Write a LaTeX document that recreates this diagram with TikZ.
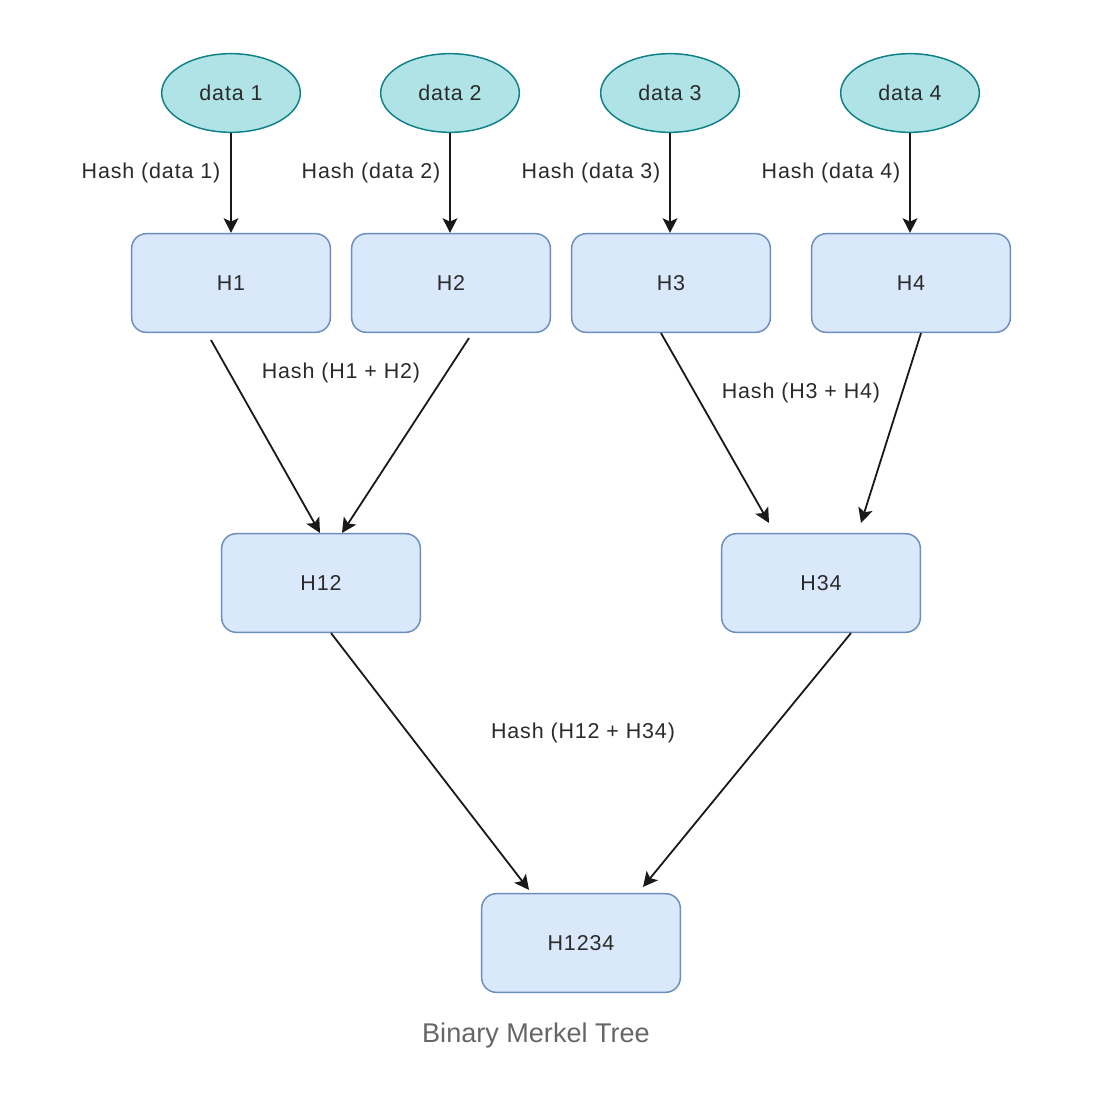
\documentclass[tikz,border=0pt]{standalone}
\usepackage{fontspec}
\setmainfont{Liberation Sans}[LetterSpace=4]
\newfontfamily\captionfont{Liberation Sans}
\usetikzlibrary{shapes.geometric,arrows.meta,calc}
\definecolor{ellfill}{HTML}{B0E3E6}
\definecolor{elldraw}{HTML}{0E8088}
\definecolor{boxfill}{HTML}{DAE8FC}
\definecolor{boxdraw}{HTML}{6C8EBF}
\definecolor{txt}{HTML}{2B2B2B}
\definecolor{capt}{HTML}{666666}
\begin{document}
\begin{tikzpicture}[x=0.75pt,y=-0.75pt,
  dataell/.style={ellipse,draw=elldraw,fill=ellfill,line width=1.1pt,
    minimum width=104pt,minimum height=59pt,inner sep=0pt,text=txt,
    font=\fontsize{16.1}{19}\selectfont},
  hbox/.style={rectangle,rounded corners=11pt,draw=boxdraw,fill=boxfill,line width=1.1pt,
    minimum width=149pt,minimum height=74pt,inner sep=0pt,text=txt,
    font=\fontsize{16.1}{19}\selectfont},
  lbl/.style={text=txt,inner sep=0pt,font=\fontsize{16.1}{19}\selectfont},
  arr/.style={draw=black!90,line width=1.35pt,-{Stealth[length=11pt,width=11pt,inset=2.5pt]}}
]
\useasboundingbox[fill=white] (0,0) rectangle (1114,1098);
% data ellipses
\node[dataell] (d1) at (231,93) {data 1};
\node[dataell] (d2) at (450,93) {data 2};
\node[dataell] (d3) at (670,93) {data 3};
\node[dataell] (d4) at (910,93) {data 4};
% leaf hashes
\node[hbox] (H1) at (231,283) {H1};
\node[hbox] (H2) at (451,283) {H2};
\node[hbox] (H3) at (671,283) {H3};
\node[hbox] (H4) at (911,283) {H4};
% intermediate
\node[hbox] (H12) at (321,583) {H12};
\node[hbox] (H34) at (821,583) {H34};
% root
\node[hbox] (H1234) at (581,943) {H1234};
% vertical arrows
\draw[arr] (d1.south) -- (H1.north);
\draw[arr] (d2.south) -- (H2.north -| d2.south);
\draw[arr] (d3.south) -- (H3.north -| d3.south);
\draw[arr] (d4.south) -- (H4.north -| d4.south);
% diagonal arrows
\coordinate (a1s) at ($(H1.south)+(-20,7)$);
\coordinate (a1e) at ($(H12.north)+(-1,0)$);
\coordinate (a2s) at ($(H2.south)+(18,5)$);
\coordinate (a2e) at ($(H12.north)+(21,0)$);
\coordinate (a3s) at ($(H3.south)+(-10,0)$);
\coordinate (a3e) at ($(H34.north)+(-52,-10)$);
\coordinate (a4s) at ($(H4.south)+(10,0)$);
\coordinate (a4e) at ($(H34.north)+(40,-10)$);
\coordinate (a5s) at ($(H12.south)+(10,0)$);
\coordinate (a5e) at ($(H1234.north)+(-52,-3)$);
\coordinate (a6s) at ($(H34.south)+(30,0)$);
\coordinate (a6e) at ($(H1234.north)+(62,-6)$);
\draw[arr] (a1s) -- (a1e);
\draw[arr] (a2s) -- (a2e);
\draw[arr] (a3s) -- (a3e);
\draw[arr] (a4s) -- (a4e);
\draw[arr] (a5s) -- (a5e);
\draw[arr] (a6s) -- (a6e);
% labels
\node[lbl] (l1) at (151,173) {Hash (data 1)};
\node[lbl] (l2) at (371,173) {Hash (data 2)};
\node[lbl] (l3) at (591,173) {Hash (data 3)};
\node[lbl] (l4) at (831,173) {Hash (data 4)};
\node[lbl] (l12) at (341,373) {Hash (H1 + H2)};
\node[lbl] (l34) at (801,393) {Hash (H3 + H4)};
\node[lbl] (lroot) at (583,733) {Hash (H12 + H34)};
% caption
\node[text=capt,inner sep=0pt,font=\captionfont\fontsize{20.3}{24}\selectfont] (cap) at (536,1035) {Binary Merkel Tree};
\end{tikzpicture}
\end{document}
